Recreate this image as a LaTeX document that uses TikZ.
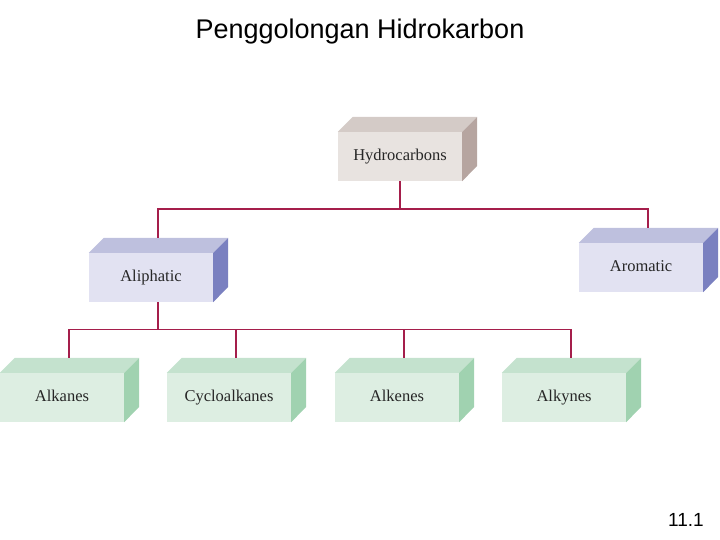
\documentclass[tikz,border=0pt]{standalone}
\usepackage{fontspec}
\setmainfont{Liberation Serif}
\newfontfamily\titlefont{Liberation Sans}
\definecolor{conncol}{RGB}{165,30,75}
\definecolor{hcF}{RGB}{232,227,224}
\definecolor{hcT}{RGB}{212,203,199}
\definecolor{hcS}{RGB}{182,165,160}
\definecolor{blF}{RGB}{226,226,242}
\definecolor{blT}{RGB}{190,192,222}
\definecolor{blS}{RGB}{122,128,192}
\definecolor{grF}{RGB}{221,238,226}
\definecolor{grT}{RGB}{196,226,206}
\definecolor{grS}{RGB}{160,210,176}
\newcommand\cubebox[7]{%
  \node[boxnode, fill=#5] (#1) at (#2+62,#3+24.5) {#4};
  \fill[#6] (#1.north west) -- ++(15,-15) -- ([xshift=15pt,yshift=15pt]#1.north east) -- (#1.north east) -- cycle;
  \fill[#7] (#1.north east) -- ++(15,-15) -- ++(0,49) -- (#1.south east) -- cycle;
  \coordinate (#1T) at ([xshift=7pt,yshift=15pt]#1.north);
}
\tikzset{
  boxnode/.style={rectangle, minimum width=124pt, minimum height=49pt, inner sep=0pt, text height=11pt, text depth=3pt, text=black!85, font=\fontsize{16.5}{18}\selectfont},
  conn/.style={draw=conncol, line width=1.4pt}
}
\begin{document}
\begin{tikzpicture}[x=1pt,y=-1pt]
\useasboundingbox (0,0) rectangle (720,540);
\node[anchor=base, font=\titlefont\fontsize{27}{30}\selectfont] (title) at (360,39) {Penggolongan Hidrokarbon};
\node[anchor=base, font=\titlefont\fontsize{19}{22}\selectfont] (num) at (686,526) {11.1};
\cubebox{hc}{338}{132}{Hydrocarbons}{hcF}{hcT}{hcS}
\cubebox{ali}{89}{253}{Aliphatic}{blF}{blT}{blS}
\cubebox{aro}{579}{243}{Aromatic}{blF}{blT}{blS}
\cubebox{alk}{0}{373}{Alkanes}{grF}{grT}{grS}
\cubebox{cyc}{167}{373}{Cycloalkanes}{grF}{grT}{grS}
\cubebox{alke}{335}{373}{Alkenes}{grF}{grT}{grS}
\cubebox{alky}{502}{373}{Alkynes}{grF}{grT}{grS}
\draw[conn] (hc.south) -- ++(0,28) coordinate (hb);
\draw[conn] (aliT) |- (hb) -| (aroT);
\coordinate (aliB) at ([xshift=7pt]ali.south);
\draw[conn] (aliB) -- ++(0,27) coordinate (lb);
\draw[conn] (alkT) |- (lb) -| (alkyT);
\draw[conn] (cycT) -- (cycT |- lb);
\draw[conn] (alkeT) -- (alkeT |- lb);
\end{tikzpicture}
\end{document}
